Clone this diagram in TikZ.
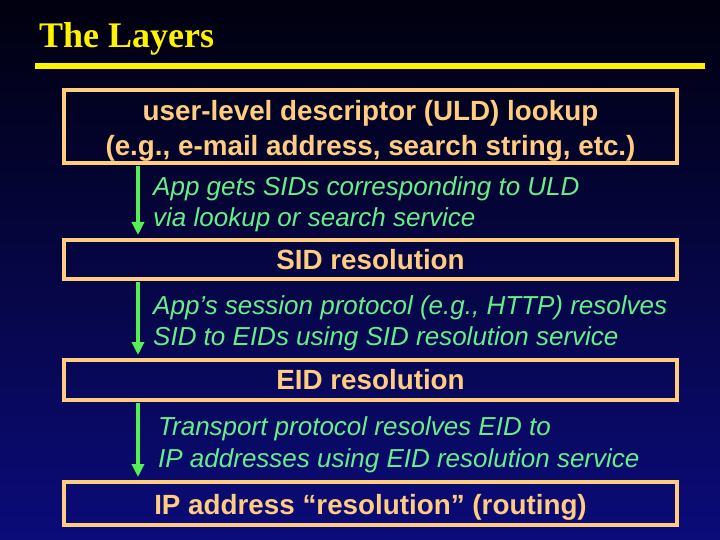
\documentclass[tikz,border=0pt]{standalone}
\usepackage{fontspec}
\setmainfont{Liberation Sans}
\newfontfamily\titlefont{Liberation Serif}
\usetikzlibrary{arrows.meta}
\definecolor{tan}{HTML}{FFCC80}
\definecolor{lgreen}{HTML}{66EE88}
\definecolor{agreen}{HTML}{55EE55}
\definecolor{navytop}{HTML}{00000E}
\definecolor{navybot}{HTML}{0B0B7A}
\tikzset{
  layer/.style={draw=tan, line width=4pt, text=tan, minimum width=613pt, inner sep=0pt,
    font=\bfseries\fontsize{27.8}{35}\selectfont, align=center},
  note/.style={anchor=west, text=lgreen, align=left, inner sep=0pt,
    font=\itshape\fontsize{26}{31.5}\selectfont},
  flow/.style={-{Triangle[length=13pt,width=12pt]}, agreen, line width=4pt}
}
\begin{document}
\begin{tikzpicture}[x=1pt,y=-1pt]
\useasboundingbox (0,0) rectangle (720,540);
\shade[top color=navytop, bottom color=navybot] (0,0) rectangle (720,540);
\node[anchor=base west, text=yellow, inner sep=0pt, font=\titlefont\bfseries\fontsize{36}{40}\selectfont] (title) at (39,48) {The Layers};
\coordinate (rulel) at (35,66.5);
\coordinate (ruler) at (705,66.5);
\draw[yellow, line width=6pt] (rulel) -- (ruler);
\node[layer, minimum height=73pt] (uld) at (370.5,126.5) {\rule{0pt}{29pt}user-level descriptor (ULD) lookup\\(e.g., e-mail address, search string, etc.)};
\node[layer, minimum height=39pt] (sid) at (370.5,259.5) {SID resolution};
\node[layer, minimum height=40pt] (eid) at (370.5,380) {EID resolution};
\node[layer, minimum height=43pt] (ip) at (370.5,503.5) {\rule{0pt}{28pt}IP address ``resolution'' (routing)};
\node[note] (n1) at (153,204.5) {App gets SIDs corresponding to ULD\\via lookup or search service};
\node[note] (n2) at (153,323.5) {App's session protocol (e.g., HTTP) resolves\\SID to EIDs using SID resolution service};
\node[note] (n3) at (158,445) {Transport protocol resolves EID to\\IP addresses using EID resolution service};
%Drawing arrows
\coordinate (axis) at (138,0);
\draw[flow, shorten <=1pt, shorten >=3pt] (uld.south -| axis) -- (sid.north -| axis);
\draw[flow, shorten <=1pt, shorten >=3pt] (sid.south -| axis) -- (eid.north -| axis);
\draw[flow, shorten <=1pt, shorten >=3pt] (eid.south -| axis) -- (ip.north -| axis);
\end{tikzpicture}
\end{document}
